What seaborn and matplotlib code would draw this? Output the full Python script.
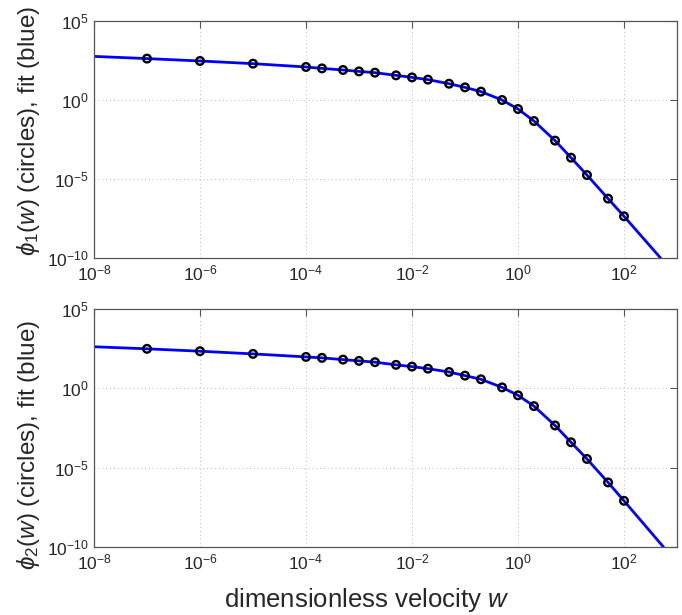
import numpy as np
import pandas as pd
import matplotlib
matplotlib.use("Agg")
import matplotlib.pyplot as plt
import seaborn as sns
from matplotlib.ticker import NullLocator

sns.set_style("white")
plt.rcParams["font.family"] = ["Liberation Sans", "DejaVu Sans"]
plt.rcParams["mathtext.fontset"] = "custom"
plt.rcParams["mathtext.rm"] = "Liberation Sans"
plt.rcParams["mathtext.it"] = "Liberation Sans:italic"
plt.rcParams["mathtext.default"] = "regular"

# ---- data ----
w_points = [1e-7, 1e-6, 1e-5, 1e-4, 2e-4, 5e-4, 1e-3, 2e-3, 5e-3, 1e-2, 2e-2,
            5e-2, 0.1, 0.2, 0.5, 1, 2, 5, 10, 20, 50, 100]
log_phi1_points = [2.62, 2.47, 2.30, 2.09, 2.00, 1.90, 1.81, 1.73, 1.56, 1.43, 1.29,
                   1.03, 0.80, 0.53, 0.00, -0.57, -1.33, -2.57, -3.65, -4.75, -6.24, -7.36]
log_phi2_points = [2.49, 2.34, 2.17, 1.98, 1.92, 1.81, 1.73, 1.65, 1.48, 1.37, 1.24,
                   1.03, 0.80, 0.57, 0.06, -0.44, -1.12, -2.34, -3.40, -4.45, -5.93, -7.09]

w_fit1 = [1e-8, 1e-7, 1e-6, 1e-5, 1e-4, 2e-4, 5e-4, 1e-3, 2e-3, 5e-3, 1e-2, 2e-2,
          5e-2, 0.1, 0.2, 0.5, 1, 2, 5, 10, 20, 50, 100, 490]
log_fit1 = [2.76, 2.62, 2.47, 2.30, 2.09, 2.00, 1.90, 1.81, 1.73, 1.56, 1.43, 1.29,
            1.03, 0.80, 0.53, 0.00, -0.57, -1.33, -2.57, -3.65, -4.75, -6.24, -7.36, -10.0]
w_fit2 = [1e-8, 1e-7, 1e-6, 1e-5, 1e-4, 2e-4, 5e-4, 1e-3, 2e-3, 5e-3, 1e-2, 2e-2,
          5e-2, 0.1, 0.2, 0.5, 1, 2, 5, 10, 20, 50, 100, 556]
log_fit2 = [2.62, 2.49, 2.34, 2.17, 1.98, 1.92, 1.81, 1.73, 1.65, 1.48, 1.37, 1.24,
            1.03, 0.80, 0.57, 0.06, -0.44, -1.12, -2.34, -3.40, -4.45, -5.93, -7.09, -10.0]

x_ticks = [1e-8, 1e-6, 1e-4, 1e-2, 1e0, 1e2]
y_ticks = [1e-10, 1e-5, 1e0, 1e5]

ylabels = [r"$\mathit{\phi}_{\mathit{1}}(\mathit{w})$ (circles), fit (blue)",
           r"$\mathit{\phi}_2(\mathit{w})$ (circles), fit (blue)"]
ylabel_y = [0.535, 0.43]

fig = plt.figure(figsize=(6.82, 6.15), dpi=100)
W, H = 682, 615
axes_px = [(94, 21, 677, 258), (94, 309, 677, 547)]

panels = [(w_fit1, log_fit1, log_phi1_points), (w_fit2, log_fit2, log_phi2_points)]

for i, ((l, t, r, b), (wf, lf, lp)) in enumerate(zip(axes_px, panels)):
    ax = fig.add_axes([l / W, 1 - b / H, (r - l) / W, (b - t) / H])
    ax.set_xscale("log")
    ax.set_yscale("log")
    fit_df = pd.DataFrame({"w": wf, "phi": np.power(10.0, lf)})
    pts_df = pd.DataFrame({"w": w_points, "phi": np.power(10.0, lp)})
    sns.lineplot(data=fit_df, x="w", y="phi", ax=ax, color="#0000ff", lw=2.0,
                 estimator=None, sort=False, zorder=2)
    sns.scatterplot(data=pts_df, x="w", y="phi", ax=ax, marker="o", s=30,
                    facecolors="none", edgecolors="black", linewidth=1.7, zorder=3)
    ax.set_xlim(1e-8, 1e3)
    ax.set_ylim(1e-10, 1e5)
    ax.set_xticks(x_ticks)
    ax.set_yticks(y_ticks)
    ax.xaxis.set_minor_locator(NullLocator())
    ax.yaxis.set_minor_locator(NullLocator())
    ax.grid(True, which="major", linestyle=(0, (1, 3)), color="#bbbbbb", linewidth=0.7)
    ax.tick_params(which="major", direction="in", length=5, width=0.8, color="#555555",
                   labelsize=12.5, top=True, right=True, pad=4)
    for sp in ax.spines.values():
        sp.set_color("#555555")
        sp.set_linewidth(0.9)
    ax.set_ylabel(ylabels[i], fontsize=17.5)
    ax.yaxis.set_label_coords(-0.090, ylabel_y[i])
    ax.set_xlabel("")
    if i == 1:
        ax.set_xlabel(r"dimensionless velocity $\mathit{w}$", fontsize=18.5)
        ax.xaxis.set_label_coords(0.467, -0.162)

fig.savefig("out.png", dpi=100)
